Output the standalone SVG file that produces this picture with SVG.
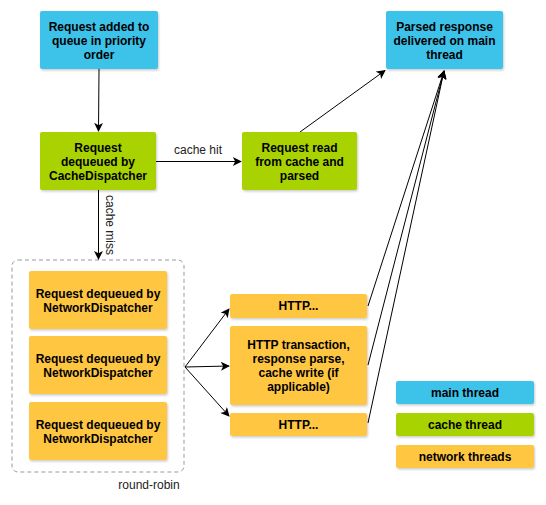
<svg xmlns="http://www.w3.org/2000/svg" width="546" height="505" viewBox="0 0 546 505">
<defs>
<marker id="ah" viewBox="0 0 10 10" refX="9" refY="5" markerWidth="10" markerHeight="9" markerUnits="userSpaceOnUse" orient="auto">
<path d="M0,0 L10,5 L0,10 L2.5,5 Z" fill="#000"/>
</marker>
<filter id="sh" x="-10%" y="-10%" width="130%" height="130%">
<feDropShadow dx="1" dy="1.5" stdDeviation="0.8" flood-color="#000" flood-opacity="0.2"/>
</filter>
</defs>
<style>
.n{stroke:none;filter:url(#sh)}
.b{fill:#3DC2EA}
.g{fill:#A9D300}
.o{fill:#FFC643}
.t{font-family:"Liberation Sans",Arial,sans-serif;font-size:12px;font-weight:bold;fill:#000;text-anchor:middle}
.l{font-family:"Liberation Sans",Arial,sans-serif;font-size:12px;fill:#222}
.c{stroke:#000;stroke-width:1;fill:none}
</style>
<rect width="546" height="505" fill="#fff"/>
<g id="group-network">
<rect x="12" y="260" width="172" height="212" rx="6" fill="none" stroke="#999" stroke-dasharray="4 3"/>
</g>
<g id="connectors">
<line class="c" x1="99" y1="69" x2="98.5" y2="131" marker-end="url(#ah)"/>
<line class="c" x1="156" y1="161.5" x2="241" y2="161.5" marker-end="url(#ah)"/>
<line class="c" x1="98.5" y1="190" x2="98.5" y2="259" marker-end="url(#ah)"/>
<line class="c" x1="300" y1="132" x2="385" y2="70.5" marker-end="url(#ah)"/>
<line class="c" x1="185" y1="367" x2="229" y2="309" marker-end="url(#ah)"/>
<line class="c" x1="185" y1="367" x2="229" y2="366" marker-end="url(#ah)"/>
<line class="c" x1="185" y1="367" x2="229" y2="416" marker-end="url(#ah)"/>
<line class="c" x1="368" y1="306" x2="444" y2="71" marker-end="url(#ah)"/>
<line class="c" x1="368" y1="365" x2="444" y2="71" marker-end="url(#ah)"/>
<line class="c" x1="368" y1="423" x2="444" y2="71" marker-end="url(#ah)"/>
<text class="l" x="198" y="154" text-anchor="middle">cache hit</text>
<text class="l" x="105.5" y="225" text-anchor="middle" transform="rotate(90 105.5 225)">cache miss</text>
<text class="l" x="149" y="489" text-anchor="middle">round-robin</text>
</g>
<g id="n1"><rect class="n b" x="40" y="11" width="118" height="58" rx="2"/>
<text class="t" x="99" y="31">Request added to</text><text class="t" x="99" y="45">queue in priority</text><text class="t" x="99" y="59">order</text></g>
<g id="n2"><rect class="n g" x="40" y="132" width="116" height="58" rx="2"/>
<text class="t" x="98" y="152">Request</text><text class="t" x="98" y="166">dequeued by</text><text class="t" x="98" y="180">CacheDispatcher</text></g>
<g id="n3"><rect class="n g" x="242" y="132" width="115" height="58" rx="2"/>
<text class="t" x="299.5" y="152">Request read</text><text class="t" x="299.5" y="166">from cache and</text><text class="t" x="299.5" y="180">parsed</text></g>
<g id="n4"><rect class="n b" x="386" y="11" width="117" height="58" rx="2"/>
<text class="t" x="444.5" y="31">Parsed response</text><text class="t" x="444.5" y="45">delivered on main</text><text class="t" x="444.5" y="59">thread</text></g>
<g id="nd1"><rect class="n o" x="29" y="271" width="138" height="58" rx="2"/>
<text class="t" x="98" y="298">Request dequeued by</text><text class="t" x="98" y="312">NetworkDispatcher</text></g>
<g id="nd2"><rect class="n o" x="29" y="336" width="138" height="58" rx="2"/>
<text class="t" x="98" y="363">Request dequeued by</text><text class="t" x="98" y="377">NetworkDispatcher</text></g>
<g id="nd3"><rect class="n o" x="29" y="402" width="138" height="58" rx="2"/>
<text class="t" x="98" y="429">Request dequeued by</text><text class="t" x="98" y="443">NetworkDispatcher</text></g>
<g id="h1"><rect class="n o" x="230" y="294" width="137" height="24" rx="2"/>
<text class="t" x="298.5" y="310">HTTP...</text></g>
<g id="h2"><rect class="n o" x="230" y="326" width="137" height="79" rx="2"/>
<text class="t" x="298.5" y="349">HTTP transaction,</text><text class="t" x="298.5" y="363">response parse,</text><text class="t" x="298.5" y="377">cache write (if</text><text class="t" x="298.5" y="391">applicable)</text></g>
<g id="h3"><rect class="n o" x="230" y="413" width="137" height="23" rx="2"/>
<text class="t" x="298.5" y="429">HTTP...</text></g>
<g id="leg1"><rect class="n b" x="396" y="381" width="138" height="23" rx="2"/>
<text class="t" x="465" y="397">main thread</text></g>
<g id="leg2"><rect class="n g" x="396" y="413" width="138" height="23" rx="2"/>
<text class="t" x="465" y="429">cache thread</text></g>
<g id="leg3"><rect class="n o" x="396" y="445" width="138" height="23" rx="2"/>
<text class="t" x="465" y="461">network threads</text></g>
</svg>
